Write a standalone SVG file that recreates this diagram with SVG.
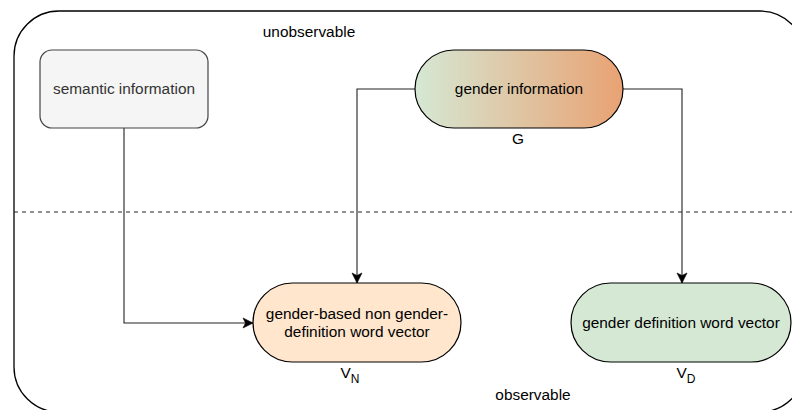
<svg xmlns="http://www.w3.org/2000/svg" width="792" height="410" viewBox="0 0 792 410">
  <style>
    text { font-family: "Liberation Sans", Arial, Helvetica, sans-serif; font-size: 15.4px; fill: #000; }
    .mid { text-anchor: middle; }
    .node { stroke: #000; stroke-width: 1.2; }
    .edge { fill: none; stroke: #222; stroke-width: 1.1; }
  </style>
  <defs>
    <linearGradient id="genderGrad" x1="0" y1="0" x2="1" y2="0">
      <stop offset="0" stop-color="#d5e8d4"/>
      <stop offset="1" stop-color="#e9a273"/>
    </linearGradient>
    <marker id="arrow" markerUnits="userSpaceOnUse" markerWidth="12" markerHeight="12" viewBox="0 0 12 12" refX="11" refY="6" orient="auto">
      <path d="M1,1 L11,6 L1,11 L3.5,6 Z" fill="#000" stroke="#000" stroke-width="0.6"/>
    </marker>
  </defs>

  <!-- outer frame and boundary between hidden and visible parts -->
  <g id="frame">
    <rect x="14" y="11" width="791" height="401" rx="45" ry="45" fill="#fff" stroke="#000" stroke-width="1.3"/>
    <line x1="14" y1="212" x2="792" y2="212" stroke="#222" stroke-width="1" stroke-dasharray="4 4"/>
    <text class="mid" x="309" y="36.5">unobservable</text>
    <text class="mid" x="533" y="400">observable</text>
  </g>

  <!-- connectors -->
  <g id="edges">
    <path class="edge" d="M124,128 V323 H253" marker-end="url(#arrow)"/>
    <path class="edge" d="M415,89 H357 V283" marker-end="url(#arrow)"/>
    <path class="edge" d="M623,89 H682 V283" marker-end="url(#arrow)"/>
  </g>

  <g id="semantic">
    <rect x="40" y="50" width="168" height="78" rx="12" ry="12" fill="#f5f5f5" stroke="#444" stroke-width="1.2"/>
    <text class="mid" x="124" y="94" style="fill:#333">semantic information</text>
  </g>

  <g id="gender">
    <rect class="node" x="415" y="50" width="208" height="78" rx="39" ry="39" fill="url(#genderGrad)"/>
    <text class="mid" x="519" y="94">gender information</text>
    <text class="mid" x="518" y="144">G</text>
  </g>

  <g id="vn">
    <rect class="node" x="253" y="283" width="208" height="79" rx="39.5" ry="39.5" fill="#ffe6cc"/>
    <text class="mid" x="357" y="319">gender-based non gender-</text>
    <text class="mid" x="357" y="337">definition word vector</text>
    <text class="mid" x="350" y="378">V<tspan dy="5" font-size="12">N</tspan></text>
  </g>

  <g id="vd">
    <rect class="node" x="571" y="283" width="220" height="79" rx="39.5" ry="39.5" fill="#d5e8d4"/>
    <text class="mid" x="681" y="328">gender definition word vector</text>
    <text class="mid" x="686" y="378">V<tspan dy="5" font-size="12">D</tspan></text>
  </g>
</svg>
